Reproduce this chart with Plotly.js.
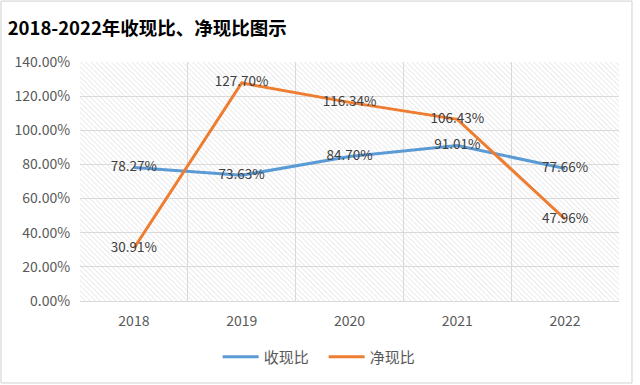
<!DOCTYPE html>
<html><head><meta charset="utf-8">
<script src="https://cdn.plot.ly/plotly-3.0.1.min.js"></script>
<style>html,body{margin:0;padding:0;background:#fff;}#c{width:640px;height:385px;}</style>
</head><body><div id="c"></div>
<script>
const years = ['2018','2019','2020','2021','2022'];
const shouxian = [78.27, 73.63, 84.70, 91.01, 77.66];
const jingxian = [30.91, 127.70, 116.34, 106.43, 47.96];
const seriesNames = ['收现比','净现比'];
const yTicks = [0,20,40,60,80,100,120,140];

const svg = "<svg xmlns='http://www.w3.org/2000/svg' width='539' height='239'><defs><pattern id='p' width='3.6' height='3.6' patternUnits='userSpaceOnUse' patternTransform='rotate(-45)'><line x1='0' y1='0' x2='0' y2='3.6' stroke='#e0e0e4' stroke-width='1.3'/></pattern></defs><rect width='539' height='239' fill='#fff'/><rect width='539' height='239' fill='url(#p)'/></svg>";
const img = 'data:image/svg+xml;charset=utf-8,' + encodeURIComponent(svg);

const font = '"Noto Sans CJK SC", "Noto Sans", sans-serif';
const mk = (y, name, color) => ({
  x: years, y: y, name: name, type: 'scatter', mode: 'lines+text',
  line: {color: color, width: 3},
  text: y.map(v => v.toFixed(2) + '%'),
  textposition: 'middle center',
  textfont: {family: font, size: 13.5, color: '#404040'},
  hoverinfo: 'skip', cliponaxis: false
});
const data = [mk(shouxian, seriesNames[0], '#5B9BD5'), mk(jingxian, seriesNames[1], '#ED7D31')];

const layout = {
  width: 640, height: 385,
  margin: {l: 80, r: 21, t: 62, b: 84},
  paper_bgcolor: '#fff', plot_bgcolor: 'rgba(0,0,0,0)',
  font: {family: font, color: '#595959', size: 13},
  title: {text: '<b>2018-2022年收现比、净现比图示</b>', xref: 'container', x: 0.012, xanchor: 'left',
          yref: 'container', y: 0.927, yanchor: 'middle',
          font: {family: font, size: 18.5, color: '#000'}},
  xaxis: {type: 'category', tickson: 'boundaries', showgrid: true, gridcolor: '#d9d9d9', gridwidth: 1,
          ticks: '', ticklabelstandoff: 7, showline: true, linecolor: '#d9d9d9',
          tickfont: {size: 14, color: '#595959'}, range: [-0.5, 4.5], fixedrange: true},
  yaxis: {range: [0, 140], tickvals: yTicks, ticktext: yTicks.map(v => v.toFixed(2) + '%'),
          showgrid: true, gridcolor: '#d9d9d9', zeroline: false, showline: false,
          ticks: 'outside', ticklen: 6, tickcolor: 'rgba(0,0,0,0)', tickfont: {size: 14, color: '#595959'}},
  legend: {orientation: 'h', x: 0.452, xanchor: 'center', y: -0.234, yanchor: 'middle',
           font: {size: 15, color: '#595959'}, itemwidth: 36, entrywidth: 55, entrywidthmode: 'pixels'},
  images: [{source: img, xref: 'paper', yref: 'paper', x: 0, y: 1, sizex: 1, sizey: 1,
            sizing: 'stretch', layer: 'below', xanchor: 'left', yanchor: 'top'}],
  shapes: [{type: 'rect', xref: 'paper', yref: 'paper', x0: -0.1466, x1: 1.0241, y0: -0.343, y1: 1.255,
            line: {color: '#d0d0d0', width: 1}}],
  showlegend: true
};
Plotly.newPlot('c', data, layout, {displayModeBar: false, staticPlot: true});
</script></body></html>
